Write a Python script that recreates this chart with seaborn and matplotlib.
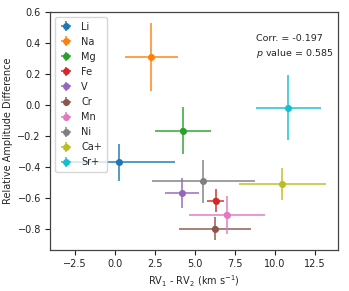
import numpy as np
import pandas as pd
import matplotlib
matplotlib.use("Agg")
import matplotlib.pyplot as plt
import seaborn as sns

species = ["Li", "Na", "Mg", "Fe", "V", "Cr", "Mn", "Ni", "Ca+", "Sr+"]
rv_diff = [0.25, 2.29, 4.25, 6.29, 4.19, 6.25, 6.98, 5.54, 10.46, 10.83]
rv_err = [3.5, 1.66, 1.75, 0.52, 1.04, 2.25, 2.37, 3.22, 2.71, 2.02]
amp_diff = [-0.37, 0.31, -0.166, -0.617, -0.57, -0.798, -0.708, -0.493, -0.51, -0.019]
amp_err = [0.12, 0.22, 0.15, 0.075, 0.096, 0.073, 0.123, 0.137, 0.105, 0.21]

df = pd.DataFrame({"species": species, "rv": rv_diff, "amp": amp_diff})

sns.set_style("ticks")
plt.rcParams["font.family"] = ["DejaVu Sans"]
palette = sns.color_palette("tab10", len(species))

fig = plt.figure(figsize=(3.49, 2.91), dpi=100)
ax = fig.add_axes([0.143, 0.141, 0.826, 0.818])

for i, sp in enumerate(species):
    ax.errorbar(rv_diff[i], amp_diff[i], xerr=rv_err[i], yerr=amp_err[i],
                fmt="o", color=palette[i], ms=4, elinewidth=1.4, capsize=0,
                ecolor=(*palette[i], 0.75), label=sp)
sns.scatterplot(data=df, x="rv", y="amp", hue="species", palette=palette,
                s=16, edgecolor="none", legend=False, ax=ax, zorder=5)

ax.set_xlim(-4.05, 13.95)
ax.set_ylim(-0.935, 0.6)
ax.set_xticks([-2.5, 0.0, 2.5, 5.0, 7.5, 10.0, 12.5])
ax.set_yticks([-0.8, -0.6, -0.4, -0.2, 0.0, 0.2, 0.4, 0.6])
ax.tick_params(labelsize=7, length=3.5, width=0.8, colors="#222222", pad=3)
for s in ax.spines.values():
    s.set_visible(True)
    s.set_color("#444444")
    s.set_linewidth(0.9)
ax.set_xlabel(r"RV$_1$ - RV$_2$ (km s$^{-1}$)", fontsize=7, labelpad=3)
ax.set_ylabel("Relative Amplitude Difference", fontsize=7, labelpad=3)

ax.text(0.715, 0.887, "Corr. = -0.197", transform=ax.transAxes, fontsize=6.8, ha="left", va="center")
ax.text(0.715, 0.824, r"$p$ value = 0.585", transform=ax.transAxes, fontsize=6.8, ha="left", va="center")

leg = ax.legend(loc="upper left", fontsize=7, handlelength=1.3, handletextpad=0.9,
                labelspacing=0.52, borderpad=0.5, frameon=True)

fig.savefig("out.png", dpi=100)
